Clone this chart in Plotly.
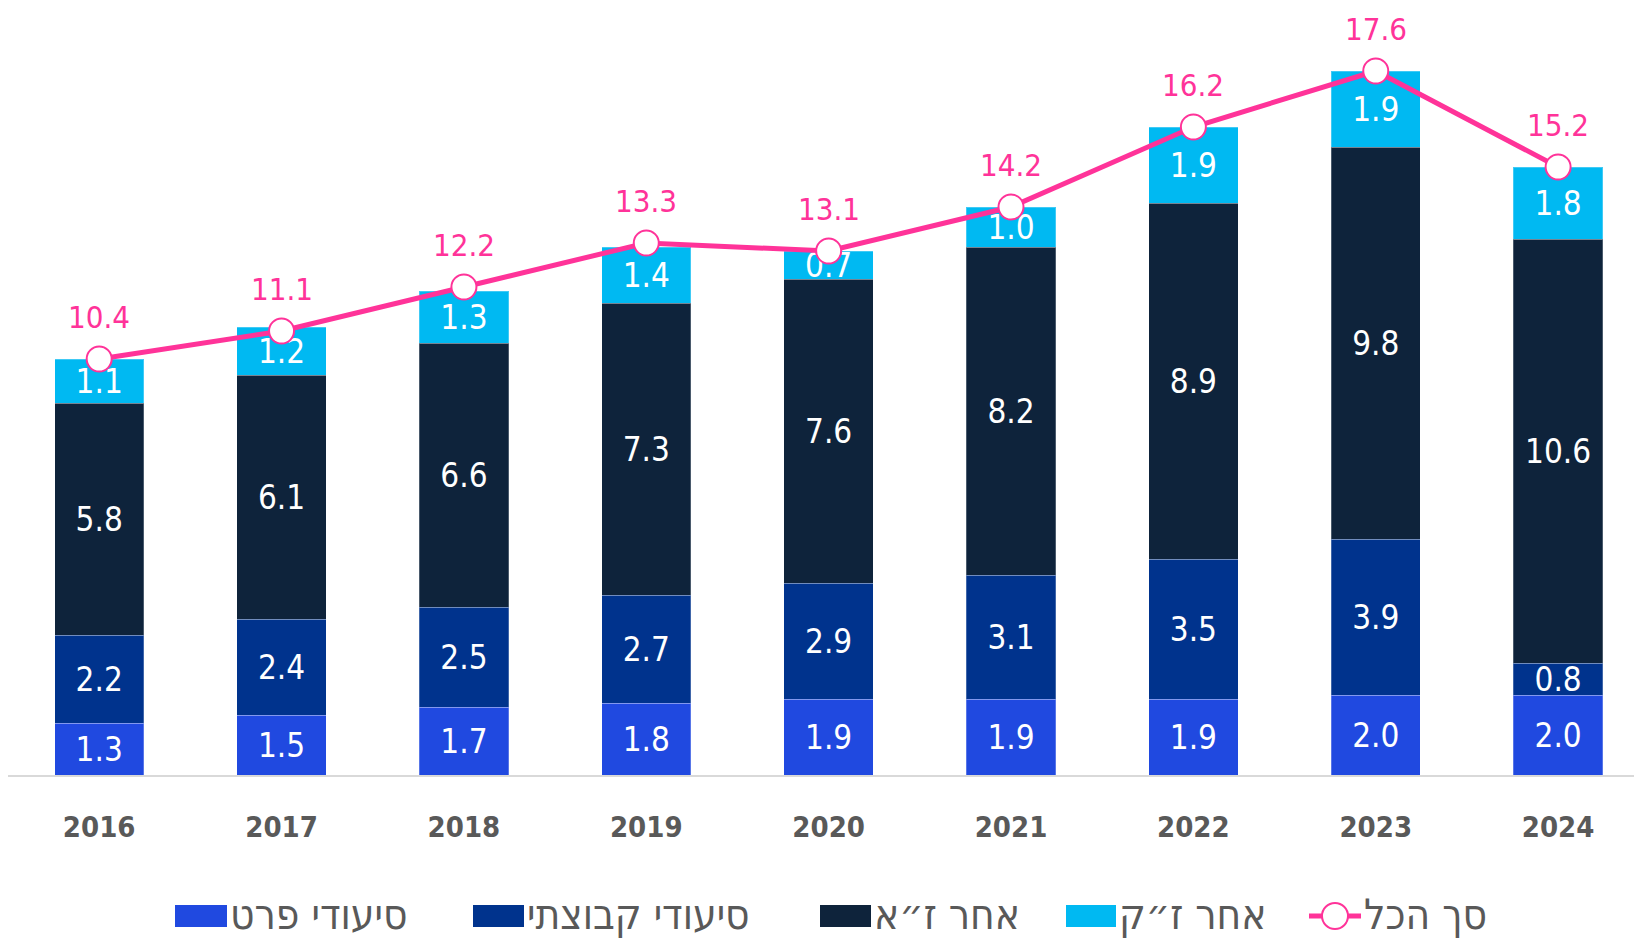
import plotly.graph_objects as go

years = ["2016", "2017", "2018", "2019", "2020", "2021", "2022", "2023", "2024"]
nursing_private = [1.3, 1.5, 1.7, 1.8, 1.9, 1.9, 1.9, 2.0, 2.0]
nursing_group = [2.2, 2.4, 2.5, 2.7, 2.9, 3.1, 3.5, 3.9, 0.8]
other_long = [5.8, 6.1, 6.6, 7.3, 7.6, 8.2, 8.9, 9.8, 10.6]
other_short = [1.1, 1.2, 1.3, 1.4, 0.7, 1.0, 1.9, 1.9, 1.8]
totals = [10.4, 11.1, 12.2, 13.3, 13.1, 14.2, 16.2, 17.6, 15.2]

names = ["סיעודי פרט", "סיעודי קבוצתי", "אחר ז״א", "אחר ז״ק", "סך הכל"]
colors = ["#2049E0", "#00338D", "#0E233B", "#00B9F2"]
pink = "#FF3399"

FONT = "DejaVu Sans Condensed"
OFF = 8  # page body margin
W, H = 1642 - OFF, 940 - OFF
ML, MR, MT, MB = 0, 0, 0, 165
PW, PH = W - ML - MR, H - MT - MB

fig = go.Figure()
for vals, name, col in zip([nursing_private, nursing_group, other_long, other_short], names[:4], colors):
    fig.add_trace(go.Bar(
        x=years, y=vals, name=name,
        marker=dict(color=col, line=dict(color="rgba(255,255,255,0.25)", width=1)),
        text=[f"{v:.1f}" for v in vals], textposition="inside", insidetextanchor="middle",
        constraintext="none", cliponaxis=False,
        textfont=dict(color="white", size=33, family=FONT),
        width=0.49, showlegend=False,
    ))

fig.add_trace(go.Scatter(
    x=years, y=totals, name=names[4], mode="lines+markers",
    line=dict(color=pink, width=5),
    marker=dict(size=25, color="white", line=dict(color=pink, width=2)),
    cliponaxis=False, showlegend=False,
))

for i, t in enumerate(totals):
    fig.add_annotation(x=i, y=t, xref="x", yref="y", text=f"{t:.1f}", showarrow=False, yshift=42,
                       borderpad=0, font=dict(color=pink, size=31, family=FONT))

# manual legend (positions in reference page pixels)
def px2x(px):
    return (px - OFF - ML) / PW

def py2y(py):
    return (MT + PH - (py - OFF)) / PH

leg_y0, leg_y1 = 905, 927
leg_cy = (leg_y0 + leg_y1) / 2
txt_cy = 914
squares = [(175, 227), (473, 524), (820, 871), (1066, 1116)]
for (a, b), col, name in zip(squares, colors, names[:4]):
    fig.add_shape(type="rect", xref="paper", yref="paper",
                  x0=px2x(a), x1=px2x(b), y0=py2y(leg_y1), y1=py2y(leg_y0),
                  fillcolor=col, line=dict(width=0), layer="above")
    fig.add_annotation(xref="paper", yref="paper", x=px2x(b + 1), y=py2y(txt_cy),
                       xanchor="left", yanchor="middle", showarrow=False, text=name,
                       font=dict(color="#595959", size=42, family=FONT))

fig.add_shape(type="line", xref="paper", yref="paper",
              x0=px2x(1309), x1=px2x(1361), y0=py2y(leg_cy), y1=py2y(leg_cy),
              line=dict(color=pink, width=5), layer="above")
fig.add_shape(type="circle", xref="paper", yref="paper", xsizemode="pixel", ysizemode="pixel",
              xanchor=px2x(1335), yanchor=py2y(leg_cy), x0=-13, x1=13, y0=-13, y1=13,
              fillcolor="white", line=dict(color=pink, width=2), layer="above")
fig.add_annotation(xref="paper", yref="paper", x=px2x(1362), y=py2y(txt_cy),
                   xanchor="left", yanchor="middle", showarrow=False, text=names[4],
                   font=dict(color="#595959", size=42, family=FONT))

fig.update_layout(
    width=W, height=H, barmode="stack", bargap=0.51,
    margin=dict(l=ML, r=MR, t=MT, b=MB),
    plot_bgcolor="white", paper_bgcolor="white",
    font=dict(family=FONT),
    showlegend=False,
    xaxis=dict(type="category", range=[-0.5, 8.46], showgrid=False, zeroline=False,
               showline=True, linecolor="#D9D9D9", linewidth=2,
               ticks="", ticklabelstandoff=25,
               tickfont=dict(color="#595959", size=29, family=FONT, weight="bold")),
    yaxis=dict(range=[0, PH / 40.0], visible=False, showgrid=False, zeroline=False),
)

fig.write_html("out.html")
